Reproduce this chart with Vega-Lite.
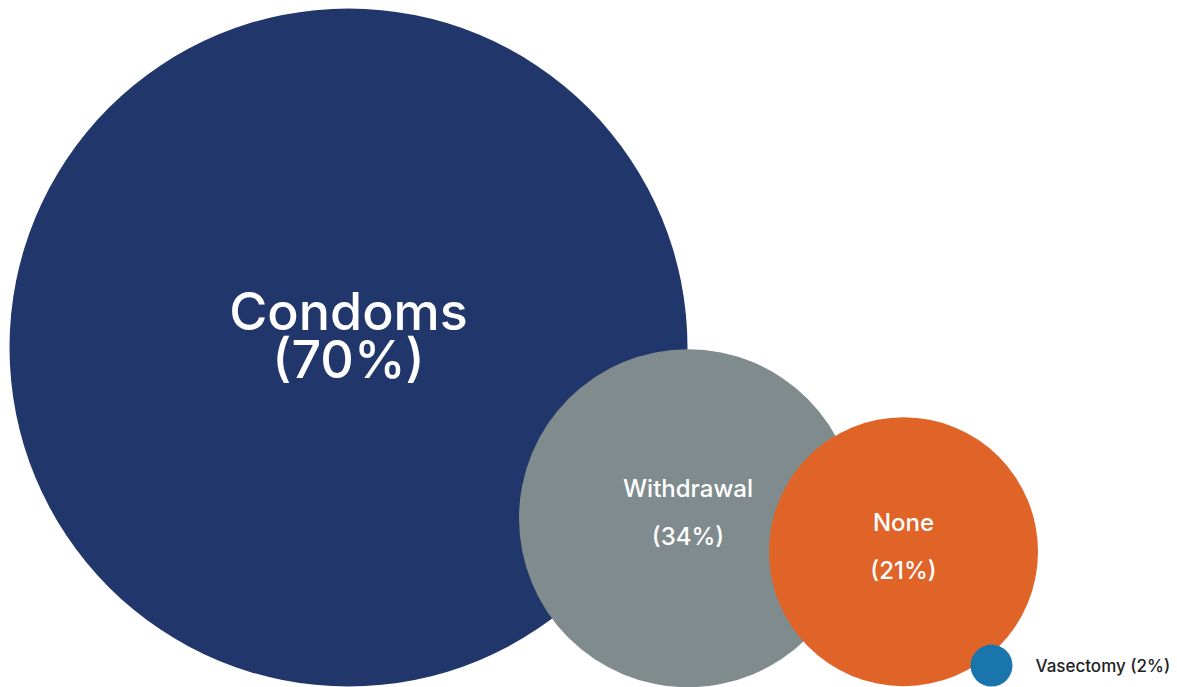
{
  "$schema": "https://vega.github.io/schema/vega-lite/v6.json",
  "width": 1177,
  "height": 687,
  "autosize": {"type": "fit", "contains": "padding"},
  "padding": 0,
  "background": "white",
  "config": {"view": {"stroke": null}},
  "data": {
    "values": [
      {"method": "Condoms", "pct": 70, "label": "Condoms\n(70%)", "cx": 348.5, "cy": 348},
      {"method": "Withdrawal", "pct": 34, "label": "Withdrawal\n(34%)", "cx": 688, "cy": 519},
      {"method": "None", "pct": 21, "label": "None\n(21%)", "cx": 903.5, "cy": 552.5},
      {"method": "Vasectomy", "pct": 2, "label": "Vasectomy (2%)", "cx": 991.5, "cy": 666.5}
    ]
  },
  "encoding": {
    "x": {"field": "cx", "type": "quantitative", "scale": {"domain": [0, 1177]}, "axis": null},
    "y": {"field": "cy", "type": "quantitative", "scale": {"domain": [0, 687], "reverse": true}, "axis": null}
  },
  "layer": [
    {
      "mark": {"type": "circle", "opacity": 1, "strokeWidth": 0},
      "encoding": {
        "size": {
          "field": "pct",
          "type": "quantitative",
          "scale": {"type": "linear", "domain": [2, 21, 34, 70], "range": [1764, 72361, 114244, 459684]},
          "legend": null
        },
        "color": {
          "field": "method",
          "type": "nominal",
          "scale": {
            "domain": ["Condoms", "Withdrawal", "None", "Vasectomy"],
            "range": ["#21366A", "#808B8D", "#E06328", "#1A75AD"]
          },
          "legend": null
        }
      }
    },
    {
      "transform": [{"filter": "datum.method === 'Condoms'"}],
      "mark": {"type": "text", "font": "Inter", "fontWeight": 500, "fontSize": 52, "lineHeight": 48, "lineBreak": "\n", "align": "center", "baseline": "alphabetic", "dy": -17, "color": "white"},
      "encoding": {"text": {"field": "label"}}
    },
    {
      "transform": [{"filter": "datum.method === 'Withdrawal' || datum.method === 'None'"}],
      "mark": {"type": "text", "font": "Inter", "fontWeight": 500, "fontSize": 24, "lineHeight": 48, "lineBreak": "\n", "align": "center", "baseline": "alphabetic", "dy": -21, "color": "white"},
      "encoding": {"text": {"field": "label"}}
    },
    {
      "transform": [{"filter": "datum.method === 'Vasectomy'"}],
      "mark": {"type": "text", "font": "Inter", "fontWeight": 500, "fontSize": 17, "align": "left", "baseline": "alphabetic", "dx": 44, "dy": 6, "color": "#222222"},
      "encoding": {"text": {"field": "label"}}
    }
  ]
}
